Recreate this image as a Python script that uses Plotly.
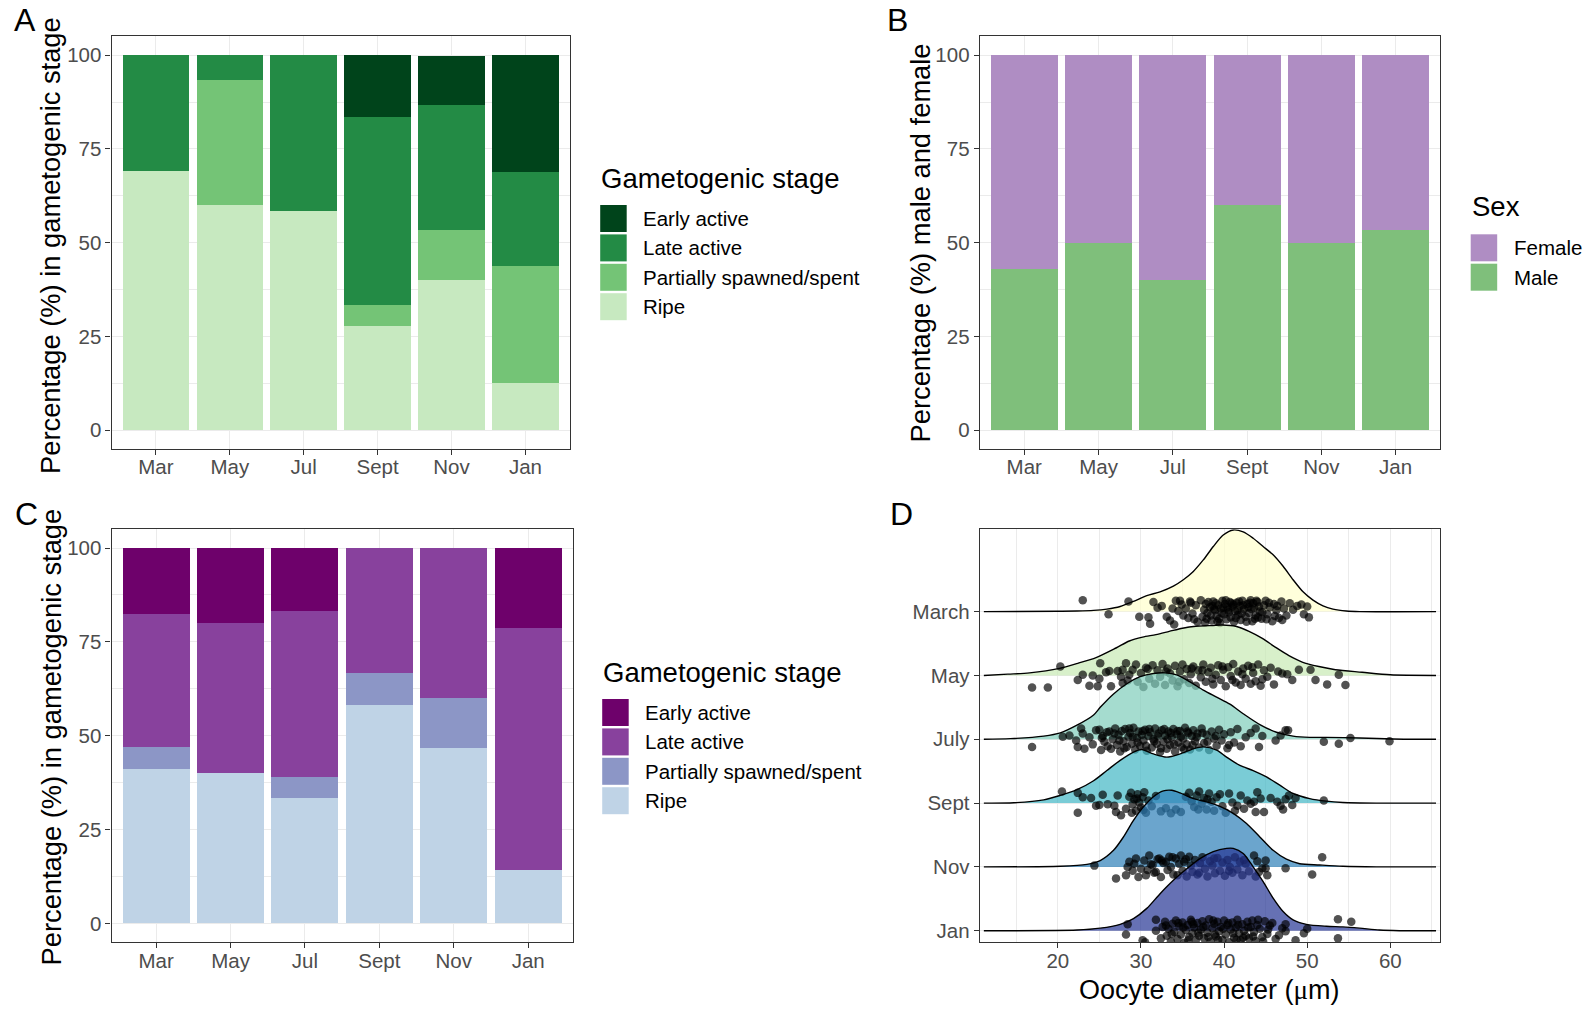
import plotly.graph_objects as go

W, H = 1587, 1009
FONT = "Liberation Sans, Arial, sans-serif"

# ---------------- data ----------------
MONTHS = ["Mar", "May", "Jul", "Sept", "Nov", "Jan"]
STAGES = ["Early active", "Late active", "Partially spawned/spent", "Ripe"]

# Panel A: % of males in each gametogenic stage
A_EARLY = [0.0, 0.0, 0.0, 16.7, 13.3, 31.25]
A_LATE = [30.8, 6.7, 41.7, 50.0, 33.3, 25.0]
A_PART = [0.0, 33.3, 0.0, 5.6, 13.3, 31.25]
A_RIPE = [69.2, 60.0, 58.3, 27.8, 40.0, 12.5]
A_COLORS = ["#00441b", "#238b45", "#74c476", "#c7e9c0"]

# Panel B: sex ratio
SEXES = ["Female", "Male"]
B_FEMALE = [57.1, 50.0, 60.0, 40.0, 50.0, 46.7]
B_MALE = [42.9, 50.0, 40.0, 60.0, 50.0, 53.3]
B_COLORS = ["#af8dc3", "#7fbf7b"]

# Panel C: % of females in each gametogenic stage
C_EARLY = [17.6, 20.0, 16.7, 0.0, 0.0, 21.4]
C_LATE = [35.3, 40.0, 44.4, 33.3, 40.0, 64.3]
C_PART = [5.9, 0.0, 5.6, 8.3, 13.3, 0.0]
C_RIPE = [41.2, 40.0, 33.3, 58.3, 46.7, 14.3]
C_COLORS = ["#6e016b", "#88419d", "#8c96c6", "#bfd3e6"]

# Panel D: oocyte diameter ridgelines
D_MONTHS = ["March", "May", "July", "Sept", "Nov", "Jan"]
D_POS = [6, 5, 4, 3, 2, 1]
D_COLORS = ["#ffffcc", "#c7e9b4", "#7fcdbb", "#41b6c4", "#2c7fb8", "#253494"]

# density curves (x in um, height in ridge units)
MAR_DX = [11.1, 20.0, 22.3, 24.3, 25.9, 27.5, 29.1, 30.7, 32.3, 33.9, 35.1, 36.3, 37.5, 38.7, 39.9, 41.1, 42.3, 43.5, 44.7, 45.9, 47.1, 48.3, 49.5, 50.7, 51.9, 53.1, 54.7, 56.3, 65.5]
MAR_DH = [0.0, 0.005, 0.01, 0.02, 0.04, 0.08, 0.16, 0.25, 0.31, 0.40, 0.50, 0.63, 0.81, 1.02, 1.20, 1.28, 1.25, 1.15, 1.02, 0.89, 0.71, 0.50, 0.31, 0.18, 0.09, 0.04, 0.01, 0.0, 0.0]
MAY_DX = [11.1, 14.0, 16.6, 20.2, 22.4, 24.6, 27.0, 28.6, 30.2, 31.8, 33.4, 35.0, 36.6, 38.2, 39.8, 41.4, 43.0, 44.6, 46.2, 47.8, 49.4, 51.4, 53.4, 56.6, 60.0, 65.5]
MAY_DH = [0.0, 0.02, 0.04, 0.11, 0.19, 0.28, 0.43, 0.54, 0.60, 0.64, 0.69, 0.74, 0.77, 0.78, 0.79, 0.77, 0.69, 0.58, 0.44, 0.31, 0.21, 0.14, 0.09, 0.05, 0.01, 0.0]
JUL_DX = [11.1, 14.3, 18.3, 20.3, 22.3, 24.3, 25.1, 26.7, 28.3, 29.9, 31.5, 32.9, 34.3, 35.9, 37.5, 39.1, 40.7, 42.3, 44.3, 46.3, 48.3, 50.3, 52.3, 56.3, 60.3, 65.5]
JUL_DH = [0.0, 0.01, 0.05, 0.10, 0.22, 0.38, 0.50, 0.71, 0.87, 0.98, 1.03, 1.04, 1.01, 0.90, 0.77, 0.66, 0.55, 0.40, 0.23, 0.11, 0.05, 0.03, 0.03, 0.02, 0.005, 0.0]
SEP_DX = [11.1, 14.7, 18.3, 20.3, 22.3, 24.3, 25.9, 27.5, 29.1, 30.1, 31.5, 33.1, 34.7, 36.3, 37.5, 39.1, 40.3, 41.9, 43.5, 45.1, 46.7, 48.3, 50.3, 52.3, 54.3, 58.3, 65.5]
SEP_DH = [0.0, 0.005, 0.05, 0.12, 0.21, 0.35, 0.51, 0.67, 0.80, 0.84, 0.77, 0.72, 0.77, 0.85, 0.88, 0.83, 0.72, 0.59, 0.51, 0.41, 0.28, 0.15, 0.07, 0.03, 0.01, 0.0, 0.0]
NOV_DX = [11.1, 20.3, 23.5, 25.1, 26.7, 27.9, 29.1, 30.3, 31.5, 32.7, 33.7, 34.7, 36.3, 37.9, 39.5, 41.1, 42.7, 44.3, 45.9, 47.5, 49.1, 51.5, 54.3, 58.3, 65.5]
NOV_DH = [0.0, 0.01, 0.04, 0.10, 0.26, 0.47, 0.73, 0.94, 1.10, 1.19, 1.20, 1.16, 1.07, 1.02, 0.95, 0.84, 0.68, 0.47, 0.26, 0.12, 0.05, 0.03, 0.01, 0.0, 0.0]
JAN_DX = [11.1, 22.3, 25.1, 27.5, 29.1, 30.7, 32.3, 33.9, 35.5, 37.1, 38.7, 40.3, 41.1, 42.3, 43.5, 44.7, 45.9, 47.1, 48.3, 49.9, 52.3, 54.3, 56.3, 58.7, 61.1, 65.5]
JAN_DH = [0.0, 0.01, 0.04, 0.10, 0.19, 0.35, 0.58, 0.79, 0.97, 1.13, 1.24, 1.29, 1.29, 1.21, 1.00, 0.77, 0.51, 0.30, 0.17, 0.10, 0.07, 0.06, 0.04, 0.01, 0.0, 0.0]

# individual oocyte diameters (um) and their vertical jitter (ridge units)
MAR_X = [23.0, 26.1, 28.5, 29.8, 30.9, 31.1, 31.5, 32.0, 32.5, 33.1, 33.5, 34.0, 34.2, 34.5, 34.7, 35.1, 35.4, 35.7, 36.0, 36.2, 36.6, 36.8, 37.2, 37.4, 37.6, 37.8, 37.9, 38.0, 38.3, 38.5, 38.6, 38.7, 38.9, 39.1, 39.3, 39.4, 39.5, 39.6, 39.8, 39.9, 40.0, 40.1, 40.3, 40.5, 40.6, 40.7, 40.8, 40.9, 41.0, 41.1, 41.2, 41.3, 41.5, 41.7, 41.8, 41.9, 42.0, 42.1, 42.2, 42.4, 42.6, 42.8, 42.9, 43.0, 43.2, 43.4, 43.5, 43.6, 43.8, 44.0, 44.1, 44.3, 44.5, 44.8, 45.0, 45.2, 45.5, 45.8, 46.0, 46.3, 46.6, 46.9, 47.2, 47.5, 47.9, 48.3, 48.8, 49.3, 49.6, 50.0, 50.2,
         37.7, 38.1, 38.4, 38.8, 39.0, 39.2, 39.7, 40.2, 40.4, 41.4, 41.6, 42.3, 42.7, 43.1, 43.3, 43.7, 43.9, 44.2, 44.6, 45.1, 45.4, 46.1, 46.4, 47.0, 34.9, 35.9, 36.4, 33.8]
MAR_J = [0.18, -0.04, 0.16, -0.08, -0.09, -0.19, 0.15, 0.06, 0.09, -0.08, -0.14, -0.20, 0.17, 0.01, 0.17, -0.06, 0.05, -0.10, 0.14, -0.03, 0.10, -0.16, 0.18, -0.08, 0.03, 0.12, -0.11, -0.02, 0.07, -0.14, 0.09, 0.16, 0.02, -0.07, 0.10, -0.11, -0.18, 0.05, 0.17, 0.06, -0.04, 0.12, -0.12, 0.03, -0.01, 0.15, -0.09, 0.13, 0.08, 0.11, -0.16, 0.01, 0.14, -0.05, 0.16, 0.09, -0.13, -0.03, 0.17, 0.04, -0.08, 0.12, 0.07, -0.02, 0.18, -0.15, 0.13, 0.06, -0.06, 0.15, -0.09, 0.00, -0.11, 0.10, 0.17, -0.04, 0.07, -0.15, 0.12, 0.02, -0.10, 0.16, 0.05, -0.06, 0.13, 0.03, 0.09, 0.11, -0.04, 0.08, -0.09,
         -0.17, 0.15, -0.06, 0.04, 0.13, -0.15, -0.02, 0.18, 0.07, -0.10, 0.02, 0.10, -0.16, 0.14, 0.04, -0.11, 0.17, 0.08, -0.01, -0.12, 0.14, -0.07, 0.09, -0.13, 0.11, 0.16, -0.12, 0.05]
MAY_X = [16.9, 18.8, 20.3, 22.4, 23.0, 23.8, 24.2, 24.8, 25.0, 25.1, 25.8, 26.2, 26.4, 27.2, 27.6, 27.8, 27.8, 28.2, 28.6, 29.0, 29.4, 29.6, 30.0, 30.3, 30.6, 31.0, 31.4, 31.7, 32.0, 32.3, 32.6, 32.9, 33.2, 33.5, 33.8, 34.1, 34.4, 34.7, 35.0, 35.2, 35.5, 35.8, 36.0, 36.3, 36.6, 36.9, 37.2, 37.5, 37.8, 38.1, 38.4, 38.7, 39.0, 39.3, 39.6, 39.9, 40.2, 40.5, 40.8, 41.1, 41.4, 41.7, 42.0, 42.3, 42.6, 42.9, 43.2, 43.5, 43.8, 44.1, 44.4, 44.8, 45.2, 45.6, 46.0, 46.5, 47.0, 47.6, 48.2, 49.0, 50.4, 51.0, 52.4, 53.8, 54.6,
         33.0, 34.6, 36.1, 37.4, 38.6, 39.8, 41.0, 42.2, 43.4, 44.6, 28.4, 30.8]
MAY_J = [-0.19, -0.19, 0.14, -0.07, 0.01, -0.16, 0.00, -0.17, -0.05, 0.19, 0.05, 0.07, -0.17, 0.07, -0.02, 0.09, -0.12, 0.19, 0.01, 0.09, 0.17, -0.10, 0.04, -0.18, 0.12, -0.05, 0.16, -0.13, 0.08, -0.02, 0.18, -0.15, 0.11, 0.03, -0.08, 0.15, -0.17, 0.06, 0.17, -0.06, 0.10, -0.12, 0.02, 0.14, -0.16, 0.08, -0.03, 0.17, -0.10, 0.05, 0.12, -0.14, 0.01, 0.16, -0.07, 0.09, -0.17, 0.13, -0.01, 0.18, -0.11, 0.06, -0.15, 0.11, -0.05, 0.15, -0.13, 0.04, -0.09, 0.17, -0.16, 0.08, -0.02, 0.12, -0.14, 0.06, 0.03, 0.02, -0.07, 0.09, 0.09, -0.07, -0.14, 0.01, -0.15,
         0.06, -0.10, 0.11, 0.08, -0.05, 0.14, -0.07, 0.02, 0.13, -0.06, -0.08, 0.10]
JUL_X = [16.9, 20.6, 21.4, 22.2, 22.4, 22.8, 23.0, 23.2, 23.8, 24.2, 24.6, 25.0, 25.2, 25.4, 25.6, 25.9, 26.2, 26.4, 26.6, 26.9, 27.1, 27.3, 27.5, 27.7, 27.9, 28.1, 28.3, 28.5, 28.7, 28.9, 29.1, 29.3, 29.5, 29.7, 29.9, 30.1, 30.3, 30.5, 30.7, 30.9, 31.1, 31.3, 31.5, 31.7, 31.9, 32.1, 32.3, 32.5, 32.7, 32.9, 33.1, 33.3, 33.5, 33.7, 33.9, 34.1, 34.3, 34.5, 34.7, 34.9, 35.1, 35.3, 35.5, 35.7, 35.9, 36.1, 36.3, 36.5, 36.8, 37.0, 37.3, 37.6, 37.9, 38.2, 38.5, 38.8, 39.1, 39.4, 39.7, 40.0, 40.4, 40.8, 41.2, 41.6, 42.0, 42.6, 43.2, 43.8, 44.2, 44.6, 46.2, 46.8, 47.4, 47.7, 52.0, 53.8, 55.2, 59.9,
         25.3, 26.0, 26.8, 27.4, 28.0, 28.6, 29.0, 29.6, 30.2, 30.6, 31.0, 31.6, 32.0, 32.4, 32.8, 33.2, 33.6, 34.0, 34.4, 34.8, 35.2, 35.6, 36.2, 36.7, 37.4, 38.0, 39.0, 40.6]
JUL_J = [-0.12, 0.04, 0.06, -0.02, -0.12, 0.17, 0.09, -0.15, 0.03, -0.08, 0.14, 0.15, -0.17, 0.05, -0.04, 0.11, 0.12, -0.15, 0.00, 0.17, -0.09, 0.07, -0.19, 0.13, -0.03, 0.16, -0.12, 0.04, 0.10, -0.07, 0.18, -0.16, 0.02, 0.12, -0.10, 0.07, -0.02, 0.15, -0.18, 0.05, 0.11, -0.13, 0.00, 0.17, -0.07, 0.09, -0.20, 0.14, -0.04, 0.06, -0.15, 0.12, -0.09, 0.03, 0.16, -0.19, 0.08, -0.05, 0.13, -0.12, 0.01, 0.18, -0.08, 0.10, -0.16, 0.05, 0.14, -0.03, 0.09, -0.13, 0.17, -0.06, 0.07, -0.17, 0.12, 0.01, -0.10, 0.15, -0.02, 0.08, -0.14, 0.11, -0.05, 0.16, -0.11, 0.03, 0.10, 0.17, -0.12, 0.05, -0.02, 0.06, 0.14, 0.14, -0.04, -0.07, 0.02, -0.03,
         0.02, -0.11, 0.09, -0.02, -0.14, 0.17, 0.04, -0.05, 0.13, -0.10, 0.16, -0.03, 0.05, -0.14, 0.16, 0.00, 0.10, -0.08, 0.13, 0.04, -0.16, 0.12, -0.09, 0.03, 0.10, -0.04, 0.05, -0.09]
SEP_X = [20.5, 22.4, 22.4, 23.0, 24.0, 24.6, 25.0, 25.4, 26.0, 26.8, 27.2, 27.0, 27.6, 28.2, 28.6, 28.8, 29.0, 29.2, 29.4, 29.6, 29.8, 30.0, 30.2, 30.4, 30.6, 30.9, 31.3, 31.8, 32.4, 33.0, 33.6, 34.2, 34.8, 35.4, 35.8, 36.1, 36.4, 36.7, 37.0, 37.3, 37.6, 37.9, 38.2, 38.5, 38.8, 39.1, 39.5, 39.8, 40.2, 40.6, 41.0, 41.6, 42.0, 42.4, 42.8, 43.2, 43.6, 44.0, 44.4, 43.8, 44.8, 46.4, 46.8, 47.4, 47.8, 48.2, 48.6, 52.0,
         29.5, 30.3, 36.9, 38.0, 41.3, 45.6, 47.1, 28.9]
SEP_J = [0.18, 0.16, -0.15, 0.09, 0.08, -0.04, -0.03, 0.13, -0.02, -0.04, 0.12, -0.14, -0.19, -0.09, 0.10, 0.16, -0.02, 0.06, -0.12, 0.14, 0.01, -0.07, 0.09, 0.17, -0.15, 0.04, -0.05, 0.11, -0.13, -0.08, -0.16, -0.10, -0.14, 0.10, 0.16, 0.03, -0.06, 0.12, 0.18, -0.01, 0.08, -0.10, 0.15, 0.02, -0.12, 0.09, 0.14, -0.05, -0.15, 0.15, 0.01, -0.04, 0.12, -0.09, 0.04, -0.01, 0.02, 0.17, 0.07, -0.14, -0.14, 0.02, -0.04, 0.06, 0.12, -0.03, 0.08, 0.04,
         0.07, -0.11, -0.10, 0.06, -0.12, 0.08, -0.10, -0.15]
NOV_X = [24.4, 27.0, 28.2, 28.4, 28.6, 29.0, 29.4, 29.7, 30.0, 30.4, 30.6, 31.0, 31.2, 31.4, 31.6, 31.8, 32.0, 32.2, 32.4, 32.7, 33.0, 33.2, 33.4, 33.6, 33.9, 34.2, 34.4, 34.6, 34.8, 35.0, 35.2, 35.5, 35.8, 36.0, 36.2, 36.5, 36.8, 37.1, 37.4, 37.7, 38.0, 38.3, 38.6, 38.9, 39.2, 39.5, 39.8, 40.1, 40.4, 40.7, 41.0, 41.3, 41.6, 41.9, 42.2, 42.6, 43.0, 43.6, 44.0, 44.2, 44.6, 45.0, 45.0, 45.2, 47.4, 50.6, 51.8,
         29.2, 30.8, 32.5, 33.8, 35.4, 37.0, 38.8, 40.6, 42.4, 43.8]
NOV_J = [0.02, -0.18, -0.13, 0.00, 0.08, -0.06, 0.13, -0.16, -0.03, 0.10, -0.13, 0.18, 0.04, 0.03, -0.09, -0.08, 0.12, 0.13, -0.16, 0.06, 0.08, -0.05, 0.16, 0.00, -0.12, 0.13, -0.13, 0.05, 0.18, -0.06, 0.08, -0.15, 0.16, 0.02, -0.08, 0.11, -0.12, 0.06, 0.15, -0.03, -0.15, 0.09, 0.02, -0.10, 0.14, -0.06, 0.07, -0.14, 0.11, 0.00, -0.09, 0.15, -0.04, 0.08, -0.13, 0.05, -0.07, 0.18, 0.09, -0.08, -0.02, 0.10, -0.02, -0.13, -0.02, -0.12, 0.15,
         0.05, -0.05, 0.10, 0.15, 0.12, -0.09, 0.13, -0.06, 0.11, -0.15]
JAN_X = [28.2, 28.4, 30.2, 30.5, 31.8, 31.8, 32.4, 32.6, 32.9, 33.1, 33.3, 33.6, 33.8, 34.0, 34.2, 34.4, 34.6, 34.8, 35.0, 35.2, 35.4, 35.6, 35.8, 36.0, 36.2, 36.4, 36.6, 36.8, 37.0, 37.2, 37.4, 37.6, 37.8, 38.0, 38.2, 38.4, 38.6, 38.8, 39.0, 39.2, 39.4, 39.6, 39.8, 40.0, 40.2, 40.4, 40.6, 40.8, 41.0, 41.2, 41.4, 41.6, 41.8, 42.0, 42.2, 42.4, 42.6, 42.8, 43.0, 43.2, 43.4, 43.6, 43.8, 44.0, 44.3, 44.6, 44.9, 45.2, 45.5, 45.8, 46.2, 46.6, 47.0, 47.4, 47.4, 48.6, 49.6, 50.0, 53.7, 53.7, 55.3,
         33.0, 33.7, 34.5, 35.1, 35.7, 36.3, 36.9, 37.5, 38.1, 38.7, 39.3, 39.9, 40.5, 41.1, 41.7, 42.3, 42.9, 43.5, 44.1, 44.7, 45.3, 36.1, 38.9, 41.5]
JAN_J = [-0.06, 0.10, -0.15, -0.18, 0.17, 0.00, -0.12, 0.06, 0.14, -0.08, 0.03, -0.17, 0.11, -0.02, 0.16, -0.13, 0.07, -0.06, 0.13, -0.19, 0.01, 0.09, -0.10, 0.17, -0.04, 0.05, -0.15, 0.12, -0.08, 0.02, 0.15, -0.12, 0.08, -0.03, 0.18, -0.17, 0.04, 0.11, -0.09, 0.14, -0.01, 0.06, -0.14, 0.16, -0.06, 0.09, -0.18, 0.02, 0.13, -0.11, 0.05, 0.17, -0.04, -0.15, 0.10, 0.00, -0.08, 0.14, -0.12, 0.06, 0.16, -0.02, -0.16, 0.09, 0.03, -0.10, 0.15, -0.05, 0.08, 0.12, -0.13, -0.07, 0.04, 0.10, -0.01, -0.15, -0.04, 0.03, 0.18, -0.12, 0.14,
         0.08, -0.05, 0.12, 0.05, -0.15, 0.10, -0.03, 0.06, -0.10, 0.16, -0.14, 0.03, 0.12, -0.04, 0.09, -0.11, 0.05, -0.09, 0.17, -0.17, 0.02, 0.14, -0.06, -0.14]

D_CURVES = [(MAR_DX, MAR_DH), (MAY_DX, MAY_DH), (JUL_DX, JUL_DH), (SEP_DX, SEP_DH), (NOV_DX, NOV_DH), (JAN_DX, JAN_DH)]
D_POINTS = [(MAR_X, MAR_J), (MAY_X, MAY_J), (JUL_X, JUL_J), (SEP_X, SEP_J), (NOV_X, NOV_J), (JAN_X, JAN_J)]

# ---------------- layout helpers ----------------
def fx(p):
    return p / W


def fy(p):
    return 1 - p / H


PA = (111.5, 569.8, 36.4, 448.8)
PB = (979.7, 1440.2, 36.4, 448.8)
PC = (111.5, 572.8, 529.3, 942.2)
PD = (979.7, 1440.2, 529.3, 942.2)

TICKFONT = dict(family=FONT, size=20.5, color="#4d4d4d")


def axis_common():
    return dict(showline=True, mirror=True, linecolor="#333333", linewidth=1.1,
                ticks="outside", ticklen=5, tickwidth=1.1, tickcolor="#333333",
                tickfont=TICKFONT, showgrid=True, gridcolor="#ebebeb", gridwidth=1.2,
                zeroline=False, fixedrange=True)


def xdom(p):
    return [fx(p[0]), fx(p[1])]


def ydom(p):
    return [fy(p[3]), fy(p[2])]


fig = go.Figure()

# ---------------- bar panels ----------------
def add_bars(series, colors, xa, ya):
    for vals, col in zip(series, colors):
        fig.add_trace(go.Bar(x=MONTHS, y=vals, marker=dict(color=col, line=dict(width=0)),
                             width=0.9, xaxis=xa, yaxis=ya, showlegend=False))

# stacked bottom to top: Ripe, Partially, Late, Early
add_bars([A_RIPE, A_PART, A_LATE, A_EARLY], A_COLORS[::-1], "x", "y")
add_bars([B_MALE, B_FEMALE], [B_COLORS[1], B_COLORS[0]], "x2", "y2")
add_bars([C_RIPE, C_PART, C_LATE, C_EARLY], C_COLORS[::-1], "x3", "y3")

# ---------------- ridgeline panel ----------------
def rgba(hexc, a):
    h = hexc.lstrip("#")
    return "rgba(%d,%d,%d,%.2f)" % (int(h[0:2], 16), int(h[2:4], 16), int(h[4:6], 16), a)


for name, pos, col, (dx, dh), (px, pj) in zip(D_MONTHS, D_POS, D_COLORS, D_CURVES, D_POINTS):
    fig.add_trace(go.Scatter(x=dx, y=[pos] * len(dx), mode="lines", line=dict(width=0, color="rgba(0,0,0,0)"),
                             xaxis="x4", yaxis="y4", showlegend=False, hoverinfo="skip"))
    fig.add_trace(go.Scatter(x=dx, y=[pos + h for h in dh], mode="lines", fill="tonexty",
                             fillcolor=rgba(col, 0.7),
                             line=dict(color="black", width=1.4, shape="spline", smoothing=0.8),
                             xaxis="x4", yaxis="y4", showlegend=False, name=name))
    fig.add_trace(go.Scatter(x=px, y=[pos + j for j in pj], mode="markers",
                             marker=dict(color="black", size=8.5, opacity=0.68, line=dict(width=0)),
                             xaxis="x4", yaxis="y4", showlegend=False, name=name))

# ---------------- axes ----------------
bar_y = dict(axis_common(), range=[-5, 105], tickvals=[0, 25, 50, 75, 100],
             minor=dict(dtick=12.5, tick0=0, showgrid=True, gridcolor="#ebebeb", gridwidth=0.6, ticks=""))
bar_x = dict(axis_common(), type="category", range=[-0.6, 5.6], categoryorder="array",
             categoryarray=MONTHS, ticklabelstandoff=-5)

fig.update_layout(
    xaxis=dict(bar_x, domain=xdom(PA), anchor="y"),
    yaxis=dict(bar_y, domain=ydom(PA), anchor="x"),
    xaxis2=dict(bar_x, domain=xdom(PB), anchor="y2"),
    yaxis2=dict(bar_y, domain=ydom(PB), anchor="x2"),
    xaxis3=dict(bar_x, domain=xdom(PC), anchor="y3"),
    yaxis3=dict(bar_y, domain=ydom(PC), anchor="x3"),
    xaxis4=dict(axis_common(), domain=xdom(PD), anchor="y4", range=[10.6, 66.0],
                tickvals=[20, 30, 40, 50, 60], ticklabelstandoff=-5,
                minor=dict(tickvals=[15, 25, 35, 45, 55, 65], showgrid=True, gridcolor="#ebebeb", gridwidth=0.6, ticks="")),
    yaxis4=dict(axis_common(), domain=ydom(PD), anchor="x4", range=[0.82, 7.29],
                tickvals=D_POS, ticktext=D_MONTHS),
    barmode="stack",
    bargap=0.1,
    width=W, height=H, autosize=False,
    margin=dict(l=0, r=0, t=0, b=0),
    paper_bgcolor="white", plot_bgcolor="white",
    showlegend=False,
)

# ---------------- annotations / legends ----------------
ann = []
shapes = []


def text(t, x, y, size, color="black", angle=0, xanchor="center", yanchor="middle"):
    ann.append(dict(text=t, x=fx(x), y=fy(y), xref="paper", yref="paper", showarrow=False,
                    xanchor=xanchor, yanchor=yanchor, textangle=angle,
                    font=dict(family=FONT, size=size, color=color)))


# panel tags
text("A", 25, 20, 32)
text("B", 897.5, 20, 32)
text("C", 26, 514, 32)
text("D", 901, 514, 32)

# axis titles
text("Percentage (%) in gametogenic stage", 50.5, 245.5, 27.3, angle=-90)
text("Percentage (%) male and female", 919.5, 243, 27.3, angle=-90)
text("Percentage (%) in gametogenic stage", 50.5, 737, 27.3, angle=-90)
text("Oocyte diameter (<span style='font-family:Liberation Serif, Times New Roman, serif'>μ</span>m)",
     (PD[0] + PD[1]) / 2, 990, 27)


def legend(x_left, title_y, first_top, title, labels, colors):
    text(title, x_left - 1, title_y, 27.5, xanchor="left")
    for i, (lab, col) in enumerate(zip(labels, colors)):
        top = first_top + i * 29.4
        shapes.append(dict(type="rect", xref="paper", yref="paper",
                           x0=fx(x_left), x1=fx(x_left + 26.5), y0=fy(top + 27), y1=fy(top),
                           fillcolor=col, line=dict(width=0)))
        text(lab, x_left + 41, top + 13.5, 20.5, xanchor="left")


legend(600.2, 178, 205, "Gametogenic stage", STAGES, A_COLORS)
legend(1470.7, 207, 234.3, "Sex", SEXES, B_COLORS)
legend(602.2, 672, 699, "Gametogenic stage", STAGES, C_COLORS)

fig.update_layout(annotations=ann, shapes=shapes)

fig.write_html("out.html")
